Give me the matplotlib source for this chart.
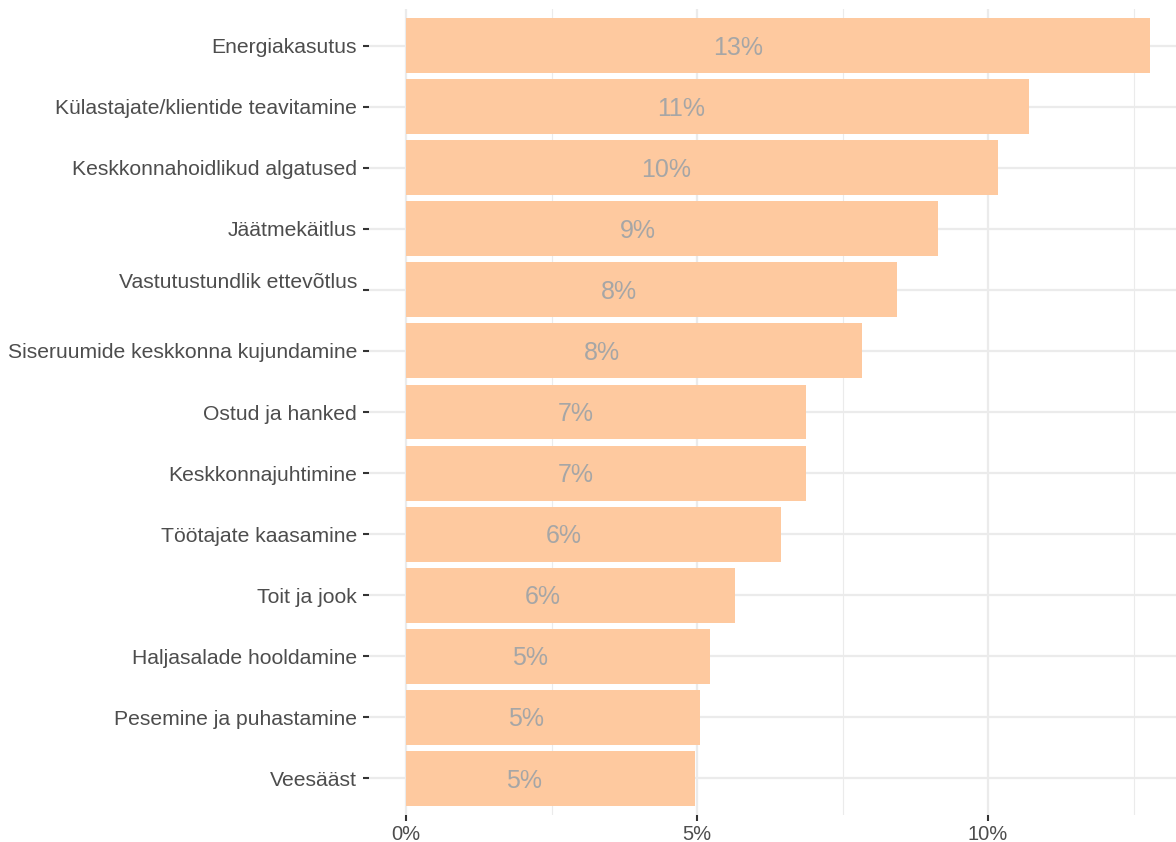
import matplotlib
matplotlib.use('Agg')
import matplotlib.pyplot as plt
import matplotlib.transforms as mtransforms
from matplotlib.ticker import MultipleLocator, FuncFormatter

categories = [
    'Energiakasutus',
    'Külastajate/klientide teavitamine',
    'Keskkonnahoidlikud algatused',
    'Jäätmekäitlus',
    'Vastutustundlik ettevõtlus',
    'Siseruumide keskkonna kujundamine',
    'Ostud ja hanked',
    'Keskkonnajuhtimine',
    'Töötajate kaasamine',
    'Toit ja jook',
    'Haljasalade hooldamine',
    'Pesemine ja puhastamine',
    'Veesääst',
]
# share of responses, %
shares = [12.78, 10.70, 10.17, 9.14, 8.44, 7.83, 6.87, 6.87, 6.44, 5.65, 5.22, 5.05, 4.97]

plt.rcParams['font.family'] = ['Liberation Sans', 'DejaVu Sans']

fig = plt.figure(figsize=(11.76, 8.42), dpi=100)
ax = fig.add_axes([369 / 1176, 1 - 815 / 842, 1 - 369 / 1176, (815 - 9) / 842])

ypos = list(range(len(categories)))
ax.barh(ypos, shares, height=0.9, color='#FEC99F', zorder=2)

for y, v in zip(ypos, shares):
    ax.text(0.4725 * v - 0.33, y + 0.035, f'{round(v):.0f}%', ha='center', va='center',
            fontsize=18, color='#A6A6A6', zorder=3)

ax.set_xlim(-0.05 * max(shares), 13.23)
ax.set_ylim(len(categories) - 0.4, -0.6)

ax.xaxis.set_major_locator(MultipleLocator(5))
ax.xaxis.set_minor_locator(MultipleLocator(2.5))
ax.xaxis.set_major_formatter(FuncFormatter(lambda x, _: f'{x:.0f}%'))
ax.set_yticks(ypos)
ax.set_yticklabels(categories)

ax.grid(True, which='major', color='#EBEBEB', linewidth=1.6, zorder=0)
ax.grid(True, which='minor', axis='x', color='#EBEBEB', linewidth=0.8, zorder=0)
ax.set_axisbelow(True)

ax.tick_params(axis='both', which='major', length=4, width=1.5, color='#333333',
               labelcolor='#4D4D4D', labelsize=14.5, pad=3)
ax.tick_params(axis='y', which='major', labelsize=15.2, pad=4.5)
ax.tick_params(axis='x', which='minor', length=0)
for s in ax.spines.values():
    s.set_visible(False)

# this label carries an extra line break, so it sits a bit higher
lbl = ax.get_yticklabels()[4]
lbl.set_transform(lbl.get_transform() + mtransforms.ScaledTranslation(0, 9 / 100, fig.dpi_scale_trans))

fig.savefig('out.png', dpi=100)
